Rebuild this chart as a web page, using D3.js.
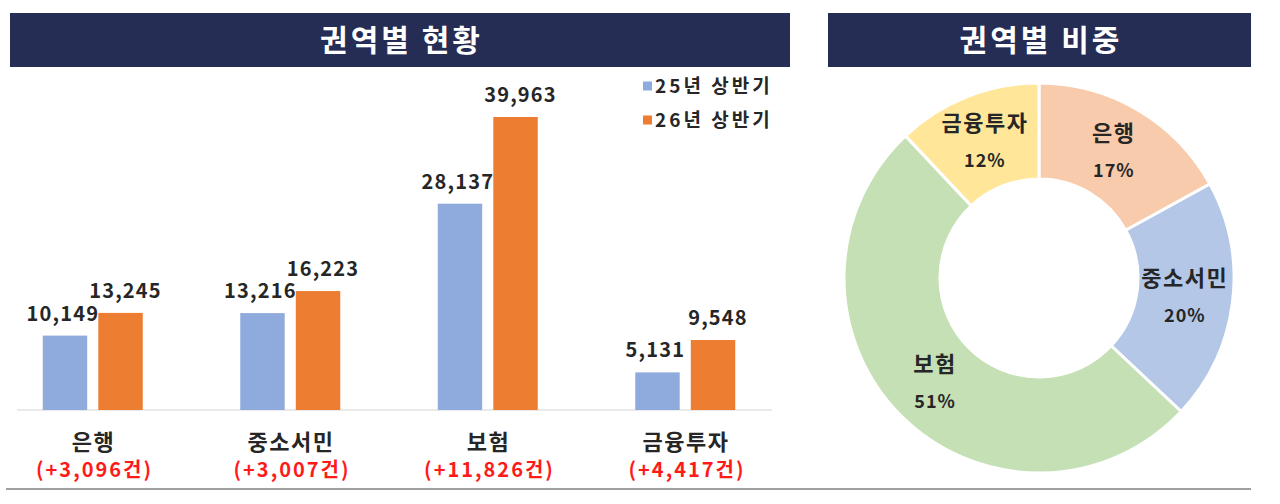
<!DOCTYPE html>
<html>
<head>
<meta charset="utf-8">
<script src="https://cdn.jsdelivr.net/npm/d3@7"></script>
<style>
  body { margin: 0; background: #fff; }
  svg text { font-family: "Noto Sans CJK KR", "Noto Sans", sans-serif; font-weight: 700; }
</style>
</head>
<body>
<svg id="chart" width="1280" height="504"></svg>
<script>
var categories = ["은행", "중소서민", "보험", "금융투자"];
var seriesNames = ["25년 상반기", "26년 상반기"];
var values25 = [10149, 13216, 28137, 5131];
var values26 = [13245, 16223, 39963, 9548];
var increases = ["(+3,096건)", "(+3,007건)", "(+11,826건)", "(+4,417건)"];
var shares = [17, 20, 51, 12];

var barColors = ["#8faadc", "#ed7d31"];
var pieColors = ["#f8cbad", "#b4c7e7", "#c5e0b4", "#ffe699"];

var svg = d3.select("#chart");

// headers
function header(x, w, title){
    svg.append("rect")
        .attr("x", x).attr("y", 13)
        .attr("width", w).attr("height", 54)
        .attr("fill", "#252d55");
    svg.append("text")
        .attr("x", x + w / 2 + 1.5).attr("y", 51)
        .attr("text-anchor", "middle")
        .attr("fill", "#fff")
        .style("font-size", "30px")
        .style("letter-spacing", "3px")
        .text(title);
}
header(10, 780, "권역별 현황");
header(828, 423, "권역별 비중");

// bottom rule
svg.append("line")
    .attr("x1", 6).attr("x2", 1251)
    .attr("y1", 489).attr("y2", 489)
    .attr("stroke", "#7f7f7f").attr("stroke-width", 1.5);

// bar chart
var baseY = 410;
var y = d3.scaleLinear().domain([0, 39963]).range([baseY, 117]);
var x0 = d3.scaleBand().domain(categories).range([-6, 784]);
var x1 = d3.scaleBand().domain(seriesNames).range([42, 142]).paddingInner(0.2);

var rows = categories.map((c, i) => ({cat: c, vals: [values25[i], values26[i]], inc: increases[i]}));

svg.append("line")
    .attr("x1", 17).attr("x2", 772)
    .attr("y1", baseY).attr("y2", baseY)
    .attr("stroke", "#e3e3e3").attr("stroke-width", 1.5);

var groups = svg.selectAll("g.grp")
    .data(rows)
    .enter().append("g")
    .classed("grp", true)
    .attr("transform", d => "translate(" + (x0(d.cat) - 92 + x0.bandwidth() / 2) + ",0)");

var bars = groups.selectAll("g.bar")
    .data(d => d.vals.map((v, j) => ({s: seriesNames[j], v: v, j: j})))
    .enter().append("g").classed("bar", true);

bars.append("rect")
    .attr("x", d => x1(d.s))
    .attr("y", d => y(d.v))
    .attr("width", x1.bandwidth())
    .attr("height", d => baseY - y(d.v))
    .attr("fill", d => barColors[d.j]);

bars.append("text")
    .attr("x", d => x1(d.s) + x1.bandwidth() / 2 + (d.j === 0 ? -2 : 5))
    .attr("y", d => y(d.v) - 15)
    .attr("text-anchor", "middle")
    .attr("fill", "#262626")
    .style("font-size", "20px")
    .style("letter-spacing", "1.2px")
    .text(d => d3.format(",")(d.v));

groups.append("text")
    .attr("x", x0.bandwidth() / 2 - 6)
    .attr("y", 450)
    .attr("text-anchor", "middle")
    .attr("fill", "#262626")
    .style("font-size", "22px")
    .style("letter-spacing", "1.5px")
    .text(d => d.cat);

groups.append("text")
    .attr("x", x0.bandwidth() / 2 - 5)
    .attr("y", 477)
    .attr("text-anchor", "middle")
    .attr("fill", "#ff1a1a")
    .style("font-size", "20px")
    .style("letter-spacing", "2px")
    .text(d => d.inc);

// legend
var legend = svg.selectAll("g.leg")
    .data(seriesNames)
    .enter().append("g").classed("leg", true)
    .attr("transform", (d, i) => "translate(643," + (86 + i * 34) + ")");
legend.append("rect")
    .attr("x", 0).attr("y", -4.5)
    .attr("width", 9).attr("height", 9)
    .attr("fill", (d, i) => barColors[i]);
legend.append("text")
    .attr("x", 12).attr("y", 7)
    .attr("fill", "#262626")
    .style("font-size", "19px")
    .style("letter-spacing", "3px")
    .text(d => d);

// donut
var cx = 1039, cy = 278;
var pie = d3.pie().sort(null).value(d => d);
var arc = d3.arc().innerRadius(99).outerRadius(195);
var labelArc = d3.arc().innerRadius(147).outerRadius(147);
var donut = svg.append("g").attr("transform", "translate(" + cx + "," + cy + ")");
var slices = donut.selectAll("g.slice")
    .data(pie(shares))
    .enter().append("g").classed("slice", true);
slices.append("path")
    .attr("d", arc)
    .attr("fill", (d, i) => pieColors[i])
    .attr("stroke", "#fff")
    .attr("stroke-width", 3);
slices.append("text")
    .attr("x", d => labelArc.centroid(d)[0])
    .attr("y", d => labelArc.centroid(d)[1] - 10)
    .attr("text-anchor", "middle")
    .attr("fill", "#262626")
    .style("font-size", "22px")
    .style("letter-spacing", "1.5px")
    .text((d, i) => categories[i]);
slices.append("text")
    .attr("x", d => labelArc.centroid(d)[0])
    .attr("y", d => labelArc.centroid(d)[1] + 26)
    .attr("text-anchor", "middle")
    .attr("fill", "#262626")
    .style("font-size", "18px")
    .style("letter-spacing", "1px")
    .text(d => d.data + "%");
</script>
</body>
</html>
